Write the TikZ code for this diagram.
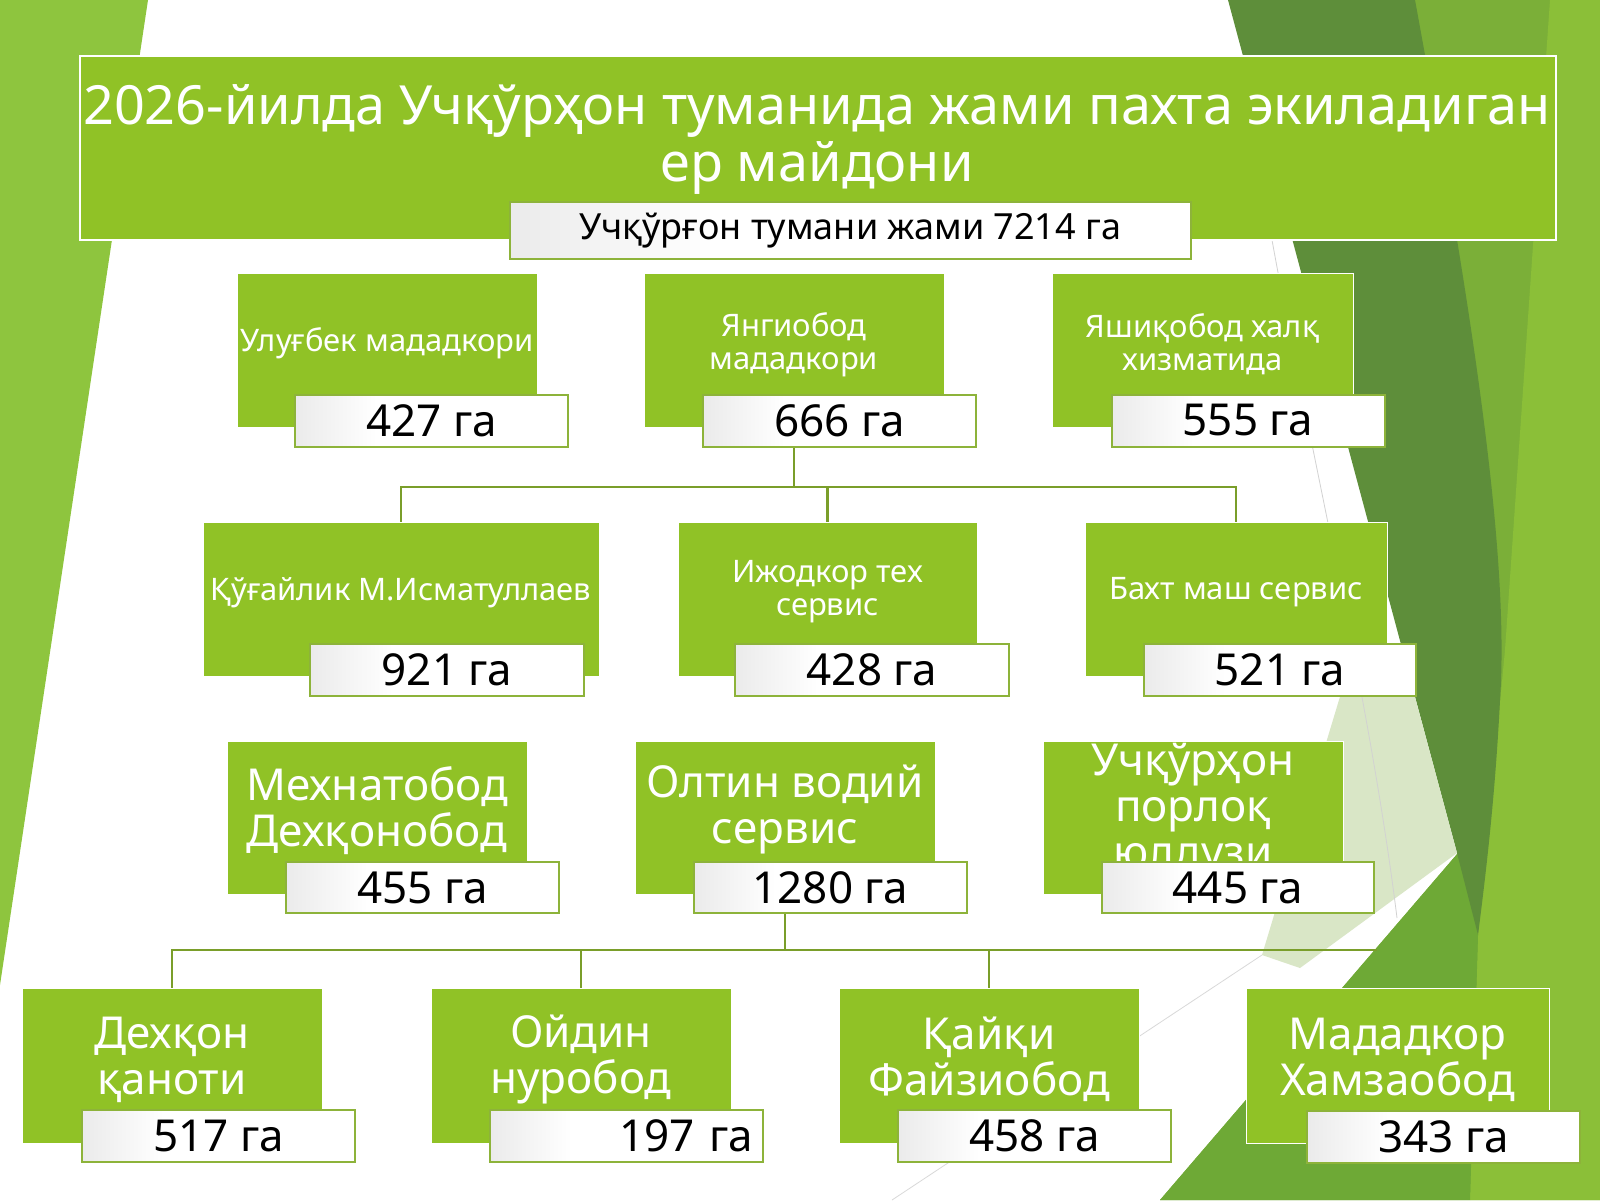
\documentclass[tikz,border=0pt]{standalone}
\usepackage{fontspec}
\setmainfont{Noto Sans}
\definecolor{boxgreen}{HTML}{90C226}
\definecolor{leftgreen}{HTML}{8EC53E}
\definecolor{darkband}{HTML}{5E8E3A}
\definecolor{medgreen}{HTML}{7BAF38}
\definecolor{lightright}{HTML}{8BBF38}
\definecolor{lowgreen}{HTML}{6EA936}
\definecolor{palegreen}{HTML}{D9E6C6}
\definecolor{lineclr}{HTML}{7A9E2A}
\definecolor{vborder}{HTML}{8DB33A}
\pgfdeclarehorizontalshading{vshade}{100bp}{color(0bp)=(black!8); color(25bp)=(black!8); color(40bp)=(white); color(100bp)=(white)}
\begin{document}
\begin{tikzpicture}[x=0.5pt,y=-0.5pt,
  gbox/.style={rectangle, fill=boxgreen, draw=white, line width=0.5pt, inner sep=0pt, minimum width=150pt, minimum height=77pt},
  gtext/.style={text=white, align=center, inner sep=0pt, font=\fontsize{15.5}{16.5}\selectfont},
  gtextbig/.style={text=white, align=center, inner sep=0pt, font=\fontsize{22}{23}\selectfont},
  vbox/.style={rectangle, shading=vshade, draw=vborder, line width=1pt, inner sep=0pt, minimum width=136.5pt, minimum height=26pt, text=black, font=\fontsize{22}{24}\selectfont},
  conn/.style={draw=lineclr, line width=1.2pt}]
\useasboundingbox (0,0) rectangle (1600,1200);
\fill[white] (0,0) rectangle (1600,1200);
% background decoration
\fill[leftgreen] (0,0) -- (148,0) -- (0,985) -- cycle;
\fill[medgreen] (1415,0) -- (1600,0) -- (1600,1200) -- (1160,1200) -- (1458,853) -- (1440,600) -- (1420,300) -- cycle;
\fill[lightright] (1550,0) -- (1600,0) -- (1600,1200) -- (1470,1200) -- (1478,935) -- (1505,650) -- cycle;
\fill[lowgreen] (1160,1200) -- (1458,853) -- (1478,935) -- (1470,1200) -- cycle;
\fill[darkband] (1228,0) -- (1415,0) .. controls (1470,300) and (1510,550) .. (1500,700) .. controls (1495,800) and (1485,880) .. (1478,935) -- (1457,853) -- cycle;
\fill[palegreen] (1342,690) -- (1413,690) -- (1457,853) -- (1300,968) -- (1262,955) -- cycle;
\draw[gray!35, line width=0.4pt] (1272,240) .. controls (1310,450) and (1370,700) .. (1397,918);
\draw[gray!30, line width=0.4pt] (892,1200) -- (1262,955);
% title
\node[rectangle, fill=boxgreen, draw=white, line width=1.2pt, minimum width=738pt, minimum height=92pt, inner sep=0pt] (titlebox) at (818,148) {};
\node[text=white, align=center, inner sep=0pt, font=\fontsize{27}{28.5}\selectfont] (titletext) at (817,139) {2026-йилда Учқўрҳон туманида жами пахта экиладиган\\ер майдони};
\node[vbox, minimum width=340.5pt, minimum height=28.5pt, font=\fontsize{18}{20}\selectfont] (sub) at (850.5,230.5) {\raisebox{-2.5pt}{Учқўрғон тумани жами 7214 га}};
% connectors
\coordinate (j1) at (794,487);
\coordinate (j2) at (785,950);
\coordinate (j2end) at (1377,950);
\node[gbox] (B) at (794,350) {};
\node[gbox, minimum width=198pt] (D) at (401,599) {};
\node[gbox, minimum width=149.5pt] (E) at (827.5,599) {};
\node[gbox, minimum width=151pt] (F) at (1236,599) {};
\node[gbox, minimum height=76.5pt] (H) at (785,817.5) {};
\node[gbox, minimum height=77.5pt] (J) at (172,1065.5) {};
\node[gbox, minimum height=77.5pt] (K) at (581,1065.5) {};
\node[gbox, minimum height=77.5pt] (L) at (989,1065.5) {};
\draw[conn] (B.south) -- (j1);
\draw[conn] (D.north) -- (D.north |- j1) -- (F.north |- j1) -- (F.north);
\draw[conn] (E.north) -- (E.north |- j1);
\draw[conn] (H.south) -- (j2);
\draw[conn] (J.north) -- (J.north |- j2) -- (j2end);
\draw[conn] (K.north) -- (K.north |- j2);
\draw[conn] (L.north) -- (L.north |- j2);
% row 1
\node[gbox] (A) at (387,350) {};
\node[gtext] (Atext) at (387,343.5) {Улуғбек мададкори};
\node[vbox] (Av) at (431.5,420.5) {427 га};
\node[gtext] (Btext) at (794,344.5) {Янгиобод\\мададкори};
\node[vbox] (Bv) at (839.5,420.5) {666 га};
\node[gbox, minimum width=150.5pt] (C) at (1202.5,350) {};
\node[gtext] (Ctext) at (1202.5,344.5) {Яшиқобод халқ\\хизматида};
\node[vbox] (Cv) at (1248,420.5) {555 га};
% row 2
\node[gtext] (Dtext) at (401,592.5) {Қўғайлик М.Исматуллаев};
\node[vbox, minimum width=137pt] (Dv) at (447,670) {921 га};
\node[gtext] (Etext) at (827.5,592) {Ижодкор тех\\сервис};
\node[vbox, minimum width=137pt] (Ev) at (872,669.5) {428 га};
\node[gtext] (Ftext) at (1236,592.5) {Бахт маш сервис};
\node[vbox, minimum width=136pt] (Fv) at (1280,669.5) {521 га};
% row 3
\node[gbox, minimum height=76.5pt] (G) at (377,817.5) {};
\node[gtextbig] (Gtext) at (377,810.5) {Мехнатобод\\Дехқонобод};
\node[vbox, minimum height=25.5pt] (Gv) at (422.5,887.5) {455 га};
\node[gtextbig] (Htext) at (785,809.5) {Олтин водий\\сервис};
\node[vbox, minimum height=25.5pt] (Hv) at (830.5,887.5) {1280 га};
\node[gbox, minimum height=76.5pt] (I) at (1193,817.5) {};
\node[gtextbig] (Itext) at (1193,811) {Учқўрҳон\\порлоқ\\юлдузи};
\node[vbox, minimum width=136pt, minimum height=25.5pt] (Iv) at (1238,887.5) {445 га};
% row 4
\node[gtextbig] (Jtext) at (172,1059.5) {Дехқон\\қаноти};
\node[vbox] (Jv) at (218.5,1136) {517 га};
\node[gtextbig] (Ktext) at (581,1059.5) {Ойдин\\нуробод};
\node[vbox, text width=126.5pt, align=right] (Kv) at (626.5,1136) {197 га};
\node[gtextbig] (Ltext) at (989,1059.5) {Қайқи\\Файзиобод};
\node[vbox] (Lv) at (1034.5,1136) {458 га};
\node[gbox, minimum width=151.5pt, minimum height=77.5pt] (M) at (1397.5,1065.5) {};
\node[gtextbig] (Mtext) at (1397.5,1059.5) {Мададкор\\Хамзаобод};
\node[vbox] (Mv) at (1443.5,1136.5) {343 га};
\end{tikzpicture}
\end{document}
